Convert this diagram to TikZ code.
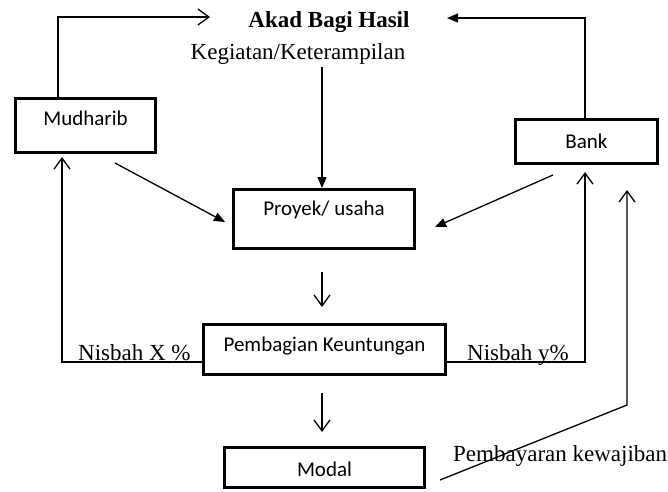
\documentclass[tikz,border=0pt]{standalone}
\usepackage{fontspec}
\setmainfont{Liberation Serif}
\newfontfamily\boxfont{Carlito}
\usetikzlibrary{arrows.meta}
\begin{document}
\begin{tikzpicture}[x=1pt,y=-1pt,
  box/.style={draw, line width=3pt, inner sep=0pt, font=\boxfont\fontsize{21}{25}\selectfont},
  lbl/.style={font=\fontsize{23}{27}\selectfont, inner sep=0pt},
  conn/.style={line width=1.3pt},
  fa/.style={conn, -{Triangle[length=11pt,width=9pt]}},
  oa/.style={conn, -{Straight Barb[length=11pt,width=16pt]}}]
\useasboundingbox (0,0) rectangle (668,491);
% boxes
\node[box, minimum width=140pt, minimum height=54pt, text depth=14pt] (Mud) at (85.5,125.5) {Mudharib};
\node[box, minimum width=181pt, minimum height=59pt, text depth=22pt] (Pro) at (324,219) {Proyek/ usaha};
\node[box, minimum width=142pt, minimum height=44pt] (Bank) at (586.5,141.5) {Bank};
\node[box, minimum width=242pt, minimum height=50pt, text depth=10pt] (Pem) at (324.5,349.5) {Pembagian Keuntungan};
\node[box, minimum width=200pt, minimum height=40pt, text height=19pt] (Mod) at (324.5,467.5) {Modal};
% labels
\node[lbl, anchor=base, font=\fontsize{23}{27}\selectfont\bfseries] (Akad) at (329,27) {Akad Bagi Hasil};
\node[lbl, anchor=base] (Keg) at (298,59) {Kegiatan/Keterampilan};
\node[lbl, anchor=base west] (NX) at (78,360) {Nisbah X \%};
\node[lbl, anchor=base west] (NY) at (467,360) {Nisbah y\%};
\node[lbl, anchor=base west] (Pay) at (453,461) {Pembayaran kewajiban};
% coordinates
\coordinate (m1) at (58,17);
\coordinate (akL) at (210,17);
\coordinate (b1) at (585,18);
\coordinate (akR) at (447,18);
\coordinate (mp1) at (115,163);
\coordinate (mp2) at (225,222);
\coordinate (bp1) at (553,175);
\coordinate (bp2) at (435,227);
\coordinate (pp1) at (322,272);
\coordinate (pp2) at (322,307);
\coordinate (pm1) at (322,393);
\coordinate (pm2) at (322,432);
\coordinate (xl) at (62,362);
\coordinate (xt) at (62,157);
\coordinate (yr) at (585,362);
\coordinate (yt) at (585,172);
\coordinate (md1) at (440,480);
\coordinate (md2) at (627,405);
\coordinate (mdt) at (627,190);
% connectors
\draw[oa] (m1 |- Mud.north) -- (m1) -- (akL);
\draw[fa] (b1 |- Bank.north) -- (b1) -- (akR);
\draw[fa] ([yshift=-3pt]Keg.south -| pp1) -- (pp1 |- Pro.north);
\draw[fa] (mp1) -- (mp2);
\draw[fa] (bp1) -- (bp2);
\draw[oa] (pp1) -- (pp2);
\draw[oa] (pm1) -- (pm2);
\draw[oa] (Pem.west |- xl) -- (xl) -- (xt);
\draw[oa] (Pem.east |- yr) -- (yr) -- (yt);
\draw[oa] (md1) -- (md2) -- (mdt);
\end{tikzpicture}
\end{document}
